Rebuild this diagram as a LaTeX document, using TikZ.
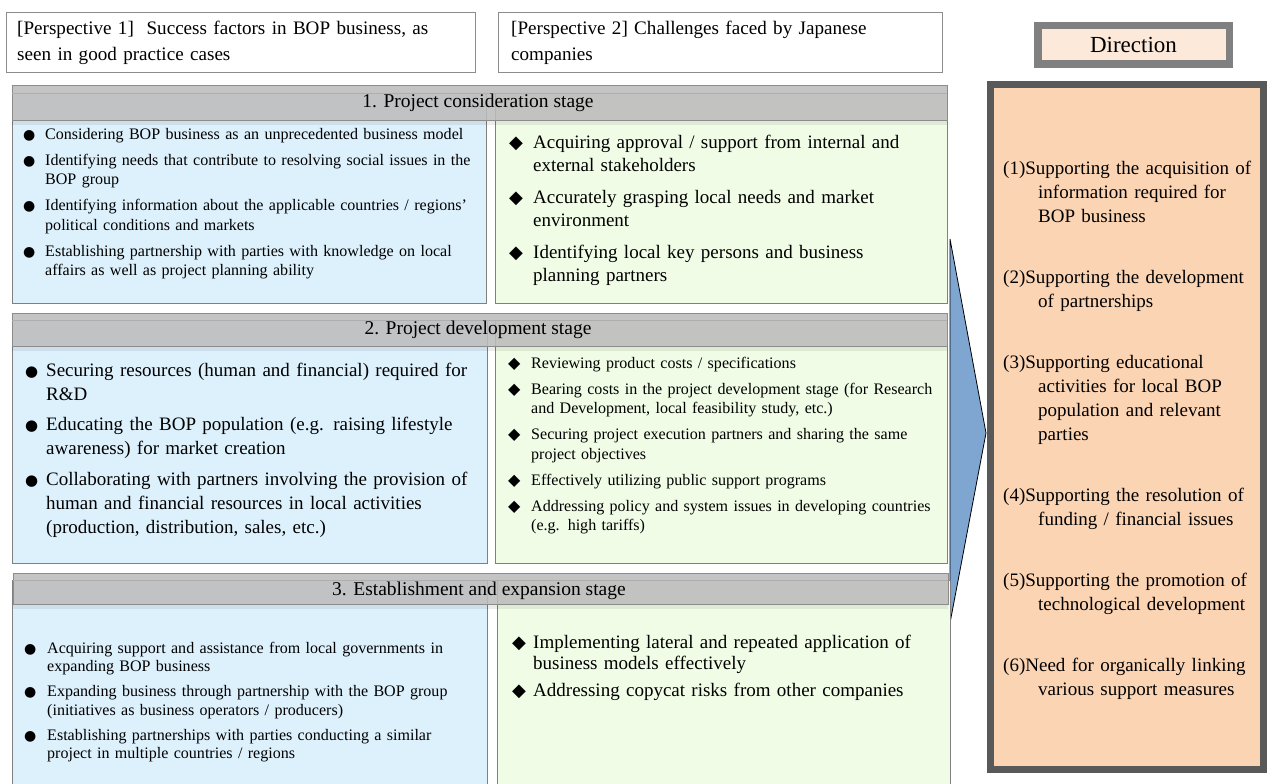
\documentclass[tikz,border=0pt]{standalone}
\usepackage{fontspec}
\setmainfont{Liberation Serif}
\newfontfamily\symf{DejaVu Sans}
\definecolor{bluefill}{HTML}{DDF1FD}
\definecolor{greenfill}{HTML}{F0FCE6}
\definecolor{boxline}{HTML}{808080}
\definecolor{persline}{HTML}{8C8C8C}
\definecolor{barfill}{HTML}{BCBCBC}
\definecolor{barline}{HTML}{8C8C8C}
\definecolor{dirfill}{HTML}{FDE9D9}
\definecolor{dirline}{HTML}{808080}
\definecolor{rightfill}{HTML}{FBD4B4}
\definecolor{rightline}{HTML}{595959}
\definecolor{arrowfill}{HTML}{7FA6D0}
\newcommand\fbig{\fontsize{19}{23.5}\selectfont}
\newcommand\fsmall{\fontsize{16.05}{19.5}\selectfont}
\newcommand\bulS{{\symf\fontsize{14}{14}\selectfont ●}}
\newcommand\bulB{{\symf\fontsize{15}{15}\selectfont ●}}
\newcommand\diaB{{\symf\fontsize{18}{18}\selectfont ◆}}
\newcommand\diaS{{\symf\fontsize{16}{16}\selectfont ◆}}
\newcommand{\bitem}[3]{\hangindent=#1\hangafter=1\noindent\makebox[#1][l]{#2}#3\par}
\newcommand{\nitem}[2]{\hangindent=#1\hangafter=1\noindent #2\par}
\newcommand{\jline}[1]{\makebox[427pt][s]{#1}}
\tikzset{
  x=1pt, y=-1pt,
  persbox/.style={draw=persline, line width=1pt, fill=white, anchor=north west, inner sep=0pt},
  bluebox/.style={draw=boxline, line width=1pt, fill=bluefill, anchor=north west, inner sep=0pt},
  greenbox/.style={draw=boxline, line width=1pt, fill=greenfill, anchor=north west, inner sep=0pt},
  stagebar/.style={draw=barline, line width=0.8pt, fill=barfill, fill opacity=0.88, anchor=north west, inner sep=0pt},
  stagetext/.style={font=\fontsize{19.5}{23.5}\selectfont, inner sep=0pt, anchor=center},
  txt/.style={anchor=base west, inner sep=0pt, align=left},
}
\begin{document}
\begin{tikzpicture}
\useasboundingbox (0,0) rectangle (1271,784);
\fill[white] (0,0) rectangle (1271,784);

% perspective headers
\node[persbox, minimum width=469pt, minimum height=60pt] (p1) at (6,12) {};
\node[persbox, minimum width=444pt, minimum height=60pt] (p2) at (498,12) {};
\node[txt, text width=455pt, font=\fontsize{19.1}{25}\selectfont] (p1t) at (17,35)
  {[Perspective 1]\ \ Success factors in BOP business, as\newline seen in good practice cases\par};
\node[txt, text width=420pt, font=\fontsize{19.1}{25}\selectfont] (p2t) at (511,35)
  {[Perspective 2] Challenges faced by Japanese\newline companies\par};

% direction header
\node[draw=dirline, line width=7.5pt, fill=dirfill, minimum width=191.5pt, minimum height=38.5pt,
      inner sep=0pt, font=\fontsize{23}{26}\selectfont] (dir) at (1133.5,45) {Direction};

% arrow
\coordinate (atop) at (950,239);
\coordinate (atip) at (986,433);
\coordinate (abot) at (950,623);
\draw[fill=arrowfill, draw=black, line width=0.8pt] (atop) -- (atip) -- (abot) -- cycle;

% right box
\node[draw=rightline, line width=7pt, fill=rightfill, minimum width=273pt, minimum height=685pt,
      inner sep=0pt] (rbox) at (1127,427) {};
\node[txt, text width=262pt, font=\fontsize{19}{24}\selectfont] (rtext) at (1003,174) {\setlength\parskip{37pt}%
\nitem{35pt}{(1)Supporting the acquisition of\newline information required for\newline BOP business}%
\nitem{35pt}{(2)Supporting the development\newline of partnerships}%
\nitem{35pt}{(3)Supporting educational\newline activities for local BOP\newline population and relevant\newline parties}%
\nitem{35pt}{(4)Supporting the resolution of\newline funding / financial issues}%
\nitem{35pt}{(5)Supporting the promotion of\newline technological development}%
\nitem{35pt}{(6)Need for organically linking\newline various support measures}};

% stage 1
\node[bluebox, minimum width=474pt, minimum height=210pt] (b1) at (12,93) {};
\node[greenbox, minimum width=452pt, minimum height=210pt] (g1) at (495,93) {};
\fill[black, opacity=0.07] (12,120) rectangle (947,125);
\node[stagebar, minimum width=935pt, minimum height=35pt] (s1) at (12,85) {};
\draw[barline!70, line width=0.6pt] (12,93) -- (947,93);
\node[stagetext] (s1t) at (478,103) {1. Project consideration stage};

\node[txt, text width=460pt, font=\fsmall] (b1t) at (23,139) {\setlength\parskip{6.5pt}%
\bitem{22pt}{\bulS}{Considering BOP business as an unprecedented business model}%
\bitem{22pt}{\bulS}{Identifying needs that contribute to resolving social issues in the\newline BOP group}%
\bitem{22pt}{\bulS}{Identifying information about the applicable countries / regions’\newline political conditions and markets}%
\bitem{22pt}{\bulS}{Establishing partnership with parties with knowledge on local\newline affairs as well as project planning ability}};

\node[txt, text width=430pt, font=\fbig] (g1t) at (509,148) {\setlength\parskip{8pt}%
\bitem{24pt}{\diaB}{Acquiring approval / support from internal and\newline external stakeholders}%
\bitem{24pt}{\diaB}{Accurately grasping local needs and market\newline environment}%
\bitem{24pt}{\diaB}{Identifying local key persons and business\newline planning partners}};

% stage 2
\node[bluebox, minimum width=475pt, minimum height=243pt] (b2) at (12,320) {};
\node[greenbox, minimum width=452pt, minimum height=243pt] (g2) at (495,320) {};
\fill[black, opacity=0.07] (12,346) rectangle (947,351);
\node[stagebar, minimum width=935pt, minimum height=33pt] (s2) at (12,313) {};
\draw[barline!70, line width=0.6pt] (12,320) -- (947,320);
\node[stagetext] (s2t) at (478,330) {2. Project development stage};

\node[txt, text width=458pt, font=\fontsize{19}{24}\selectfont] (b2t) at (25,376) {\setlength\parskip{6.5pt}%
\bitem{21pt}{\bulB}{\jline{Securing resources (human and financial) required for}\newline R\&D}%
\bitem{21pt}{\bulB}{Educating the BOP population (e.g. raising lifestyle\newline awareness) for market creation}%
\bitem{21pt}{\bulB}{\jline{Collaborating with partners involving the provision of}\newline human and financial resources in local activities\newline (production, distribution, sales, etc.)}};

\node[txt, text width=436pt, font=\fsmall] (g2t) at (508,368) {\setlength\parskip{6.5pt}%
\bitem{23pt}{\diaS}{Reviewing product costs / specifications}%
\bitem{23pt}{\diaS}{Bearing costs in the project development stage (for Research\newline and Development, local feasibility study, etc.)}%
\bitem{23pt}{\diaS}{Securing project execution partners and sharing the same\newline project objectives}%
\bitem{23pt}{\diaS}{Effectively utilizing public support programs}%
\bitem{23pt}{\diaS}{Addressing policy and system issues in developing countries\newline (e.g. high tariffs)}};

% stage 3
\node[bluebox, minimum width=475pt, minimum height=210pt] (b3) at (12,580) {};
\node[greenbox, minimum width=453pt, minimum height=210pt] (g3) at (497,580) {};
\fill[black, opacity=0.07] (13,604) rectangle (948,609);
\node[stagebar, minimum width=935pt, minimum height=31pt] (s3) at (13,573) {};
\draw[barline!70, line width=0.6pt] (13,580) -- (948,580);
\node[stagetext] (s3t) at (479,591) {3. Establishment and expansion stage};

\node[txt, text width=455pt, font=\fontsize{16.05}{18.5}\selectfont] (b3t) at (24,653) {\setlength\parskip{6.5pt}%
\bitem{23pt}{\bulS}{Acquiring support and assistance from local governments in\newline expanding BOP business}%
\bitem{23pt}{\bulS}{Expanding business through partnership with the BOP group\newline (initiatives as business operators / producers)}%
\bitem{23pt}{\bulS}{Establishing partnerships with parties conducting a similar\newline project in multiple countries / regions}};

\node[txt, text width=430pt, font=\fontsize{19}{21}\selectfont] (g3t) at (512,648) {\setlength\parskip{6pt}%
\bitem{21pt}{\diaB}{Implementing lateral and repeated application of\newline business models effectively}%
\bitem{21pt}{\diaB}{Addressing copycat risks from other companies}};
\end{tikzpicture}
\end{document}
